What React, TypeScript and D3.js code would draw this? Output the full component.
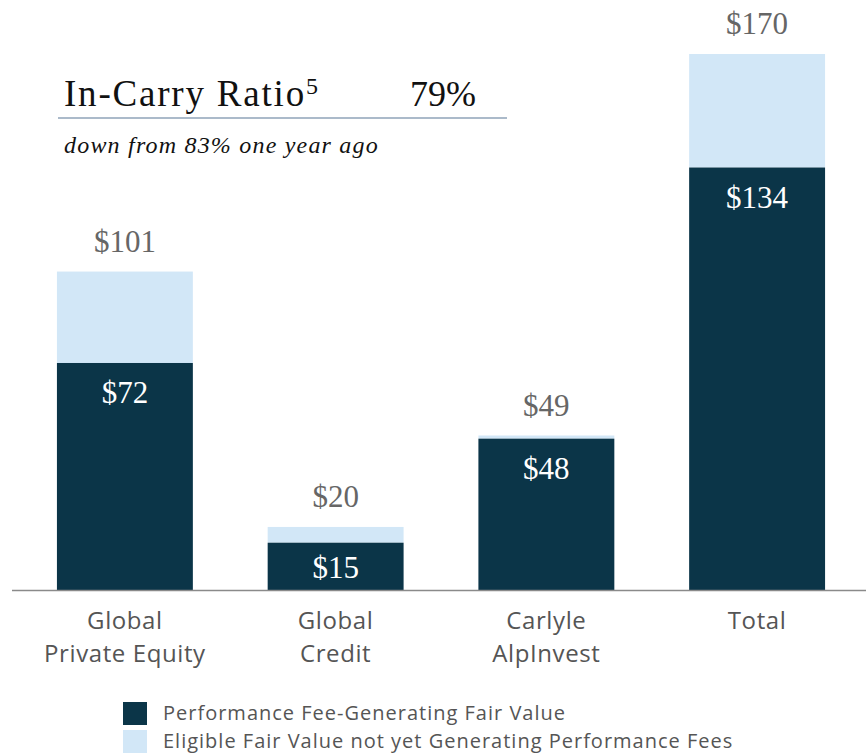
import React, { useRef, useEffect } from 'react';
import * as d3 from 'd3';

const categories = ['Global|Private Equity', 'Global|Credit', 'Carlyle|AlpInvest', 'Total'];
const generatingValues = [72, 15, 48, 134];
const totalValues = [101, 20, 49, 170];
const seriesNames = [
  'Performance Fee-Generating Fair Value',
  'Eligible Fair Value not yet Generating Performance Fees',
];

const DARK = '#0b3548';
const LIGHT = '#d2e7f7';
const SERIF = '"Liberation Serif", "DejaVu Serif", serif';
const SANS = '"Open Sans", "Noto Sans", sans-serif';

const App: React.FC = () => {
  const ref = useRef<SVGSVGElement>(null);

  useEffect(() => {
    const el = ref.current;
    if (!el) return;
    const svg = d3.select(el);
    svg.selectAll('*').remove();

    const baseline = 590;
    const x = d3.scaleBand<string>().domain(categories).range([20, 864]).paddingInner(0.355).paddingOuter(0.18);
    const y = d3.scaleLinear().domain([0, 170]).range([baseline, 54]);

    const rows = categories.map((c, i) => ({ c, gen: generatingValues[i], tot: totalValues[i] }));
    const cx = (c: string) => x(c)! - 1 + x.bandwidth() / 2;

    // light (total) segment
    svg.selectAll('rect.tot').data(rows).enter().append('rect')
      .attr('x', d => x(d.c)! - 1)
      .attr('y', d => y(d.tot))
      .attr('width', x.bandwidth())
      .attr('height', d => y(d.gen) - y(d.tot))
      .attr('fill', LIGHT);

    // dark (generating) segment
    svg.selectAll('rect.gen').data(rows).enter().append('rect')
      .attr('x', d => x(d.c)! - 1)
      .attr('y', d => y(d.gen))
      .attr('width', x.bandwidth())
      .attr('height', d => baseline - y(d.gen))
      .attr('fill', DARK);

    // axis line
    svg.append('line').attr('x1', 12).attr('x2', 866).attr('y1', baseline + 0.5).attr('y2', baseline + 0.5)
      .attr('stroke', '#8a8a8a').attr('stroke-width', 1.5);

    // total labels
    svg.selectAll('text.tot').data(rows).enter().append('text')
      .attr('x', d => cx(d.c))
      .attr('y', d => y(d.tot) - 20)
      .attr('text-anchor', 'middle')
      .style('font-family', SERIF).style('font-size', '31px').attr('fill', '#666')
      .text(d => `$${d.tot}`);

    // inner labels
    svg.selectAll('text.gen').data(rows).enter().append('text')
      .attr('x', d => cx(d.c))
      .attr('y', d => Math.min(y(d.gen) + 40, (y(d.gen) + baseline) / 2 + 12))
      .attr('text-anchor', 'middle')
      .style('font-family', SERIF).style('font-size', '31px').attr('fill', '#fff')
      .text(d => `$${d.gen}`);

    // category labels
    const cat = svg.selectAll('text.cat').data(rows).enter().append('text')
      .attr('text-anchor', 'middle')
      .style('font-family', SANS).style('font-size', '24px').style('letter-spacing', '0.6px')
      .attr('fill', '#555');
    cat.each(function (d) {
      const t = d3.select(this);
      d.c.split('|').forEach((line, i) => {
        t.append('tspan').attr('x', cx(d.c)).attr('y', 629 + i * 33).text(line);
      });
    });

    // header
    const head = svg.append('text').attr('x', 64).attr('y', 106)
      .style('font-family', SERIF).style('font-size', '37px').style('letter-spacing', '1.8px').attr('fill', '#111');
    head.append('tspan').text('In-Carry Ratio');
    head.append('tspan').attr('dy', -12).style('font-size', '24px').text('5');
    svg.append('text').attr('x', 410).attr('y', 106)
      .style('font-family', SERIF).style('font-size', '36px').attr('fill', '#111').text('79%');
    svg.append('line').attr('x1', 58).attr('x2', 507).attr('y1', 118).attr('y2', 118)
      .attr('stroke', '#8fa3b8').attr('stroke-width', 1.5);
    svg.append('text').attr('x', 64).attr('y', 153)
      .style('font-family', SERIF).style('font-size', '24px').style('font-style', 'italic')
      .style('letter-spacing', '1.2px').attr('fill', '#111')
      .text('down from 83% one year ago');

    // legend
    const legend = svg.selectAll('g.legend').data(seriesNames).enter().append('g')
      .attr('transform', (_, i) => `translate(123,${702 + i * 28})`);
    legend.append('rect').attr('width', 24).attr('height', 23).attr('fill', (_, i) => (i === 0 ? DARK : LIGHT));
    legend.append('text').attr('x', 40).attr('y', 18)
      .style('font-family', SANS).style('font-size', '20px').style('letter-spacing', '1px')
      .attr('fill', '#555')
      .text(d => d);
  }, []);

  return (
    <svg ref={ref} width={866} height={753} style={{ position: 'absolute', left: 0, top: 0, background: '#fff' }} />
  );
};

export default App;
